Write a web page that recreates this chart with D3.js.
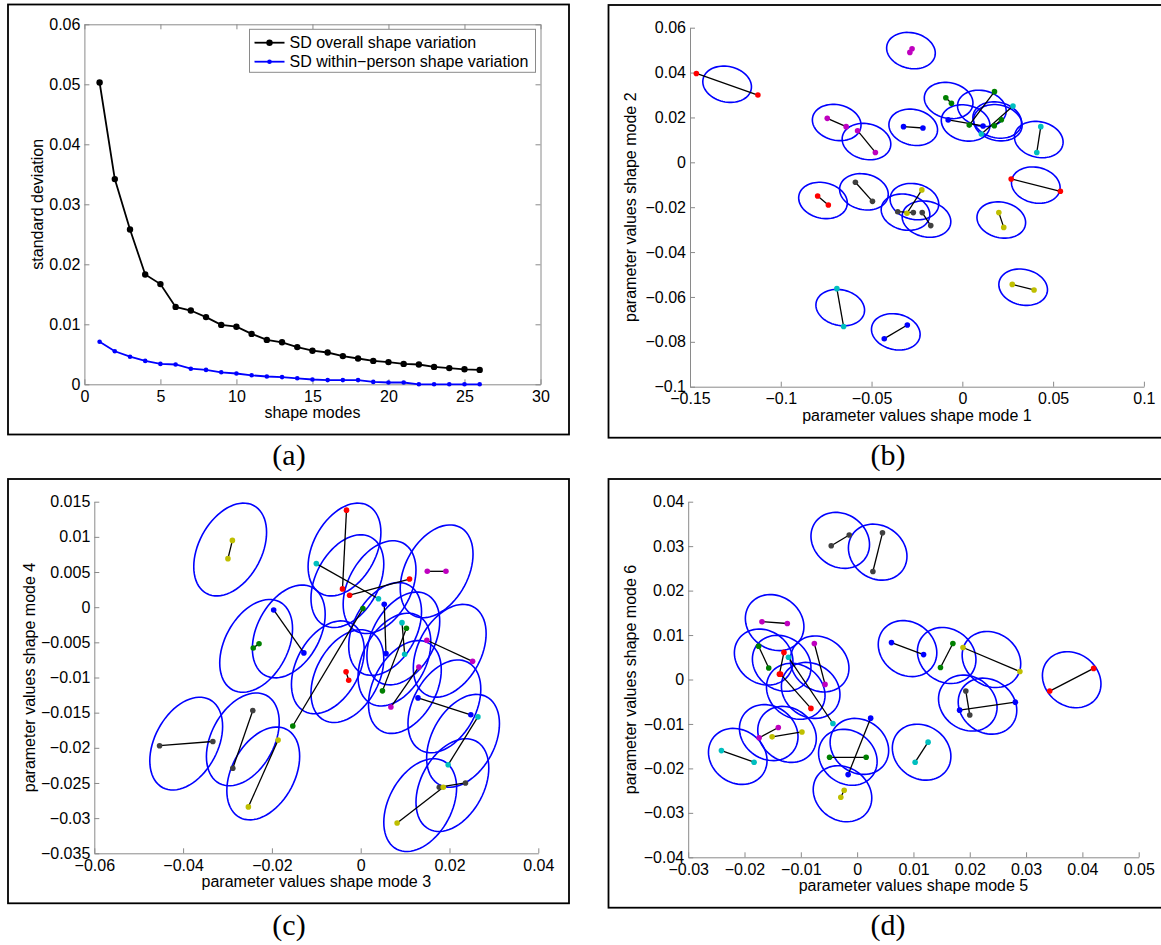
<!DOCTYPE html>
<html>
<head>
<meta charset="utf-8">
<script src="https://cdn.jsdelivr.net/npm/d3@7"></script>
<style>
  body { margin: 0; background: #fff; }
  svg { display: block; }
</style>
</head>
<body>
<div id="chart"></div>
<script>
// ---- data: panel (a) ----
const shapeModes = [1, 2, 3, 4, 5, 6, 7, 8, 9, 10, 11, 12, 13, 14, 15, 16, 17, 18, 19, 20, 21, 22, 23, 24, 25, 26];
const sdOverall = [0.0503, 0.0342, 0.0258, 0.0183, 0.0167, 0.0129, 0.0123, 0.0112, 0.0099, 0.0096, 0.0084, 0.0074, 0.0070,
    0.0062, 0.0056, 0.0053, 0.0047, 0.0043, 0.0039, 0.0037, 0.0034, 0.0033, 0.0029, 0.0027, 0.0025, 0.0024];
const sdWithin = [0.0071, 0.0055, 0.0046, 0.0039, 0.0034, 0.0033, 0.0026, 0.0024, 0.0020, 0.0018, 0.0015, 0.0013, 0.0012,
    0.0010, 0.0008, 0.0007, 0.0007, 0.0007, 0.0004, 0.0003, 0.0003, 0, 0, 0, 0, 0];
const legendLabels = ["SD overall shape variation", "SD within\u2212person shape variation"];

const aXTicks = [0, 5, 10, 15, 20, 25, 30];
const aXLabels = ["0", "5", "10", "15", "20", "25", "30"];
const aYTicks = [0, 0.01, 0.02, 0.03, 0.04, 0.05, 0.06];
const aYLabels = ["0", "0.01", "0.02", "0.03", "0.04", "0.05", "0.06"];

// ---- data: scatter panels, each pair = [person colour, x1, y1, x2, y2] ----
const mode12Pairs = [
    ["r", -0.1465, 0.0396, -0.1126, 0.0300],
    ["m", -0.0289, 0.0490, -0.0277, 0.0506],
    ["m", -0.0744, 0.0196, -0.0640, 0.0159],
    ["m", -0.0577, 0.0141, -0.0479, 0.0044],
    ["b", -0.0324, 0.0159, -0.0217, 0.0153],
    ["g", -0.0091, 0.0288, -0.0060, 0.0263],
    ["g", 0.0177, 0.0315, 0.0038, 0.0166],
    ["b", -0.0078, 0.0189, 0.0114, 0.0162],
    ["c", 0.0279, 0.0251, 0.0105, 0.0126],
    ["g", 0.0215, 0.0190, 0.0176, 0.0163],
    ["c", 0.0432, 0.0159, 0.0410, 0.0044],
    ["r", 0.0269, -0.0074, 0.0540, -0.0129],
    ["r", -0.0797, -0.0150, -0.0738, -0.0190],
    ["k", -0.0589, -0.0089, -0.0495, -0.0174],
    ["y", -0.0223, -0.0123, -0.0305, -0.0227],
    ["k", -0.0356, -0.0220, -0.0270, -0.0224],
    ["k", -0.0221, -0.0224, -0.0174, -0.0282],
    ["y", 0.0201, -0.0224, 0.0228, -0.0290],
    ["y", 0.0275, -0.0544, 0.0395, -0.0569],
    ["c", -0.0691, -0.0563, -0.0654, -0.0732],
    ["b", -0.0430, -0.0786, -0.0303, -0.0725]
];
const mode34Pairs = [
    ["y", -0.0289, 0.0095, -0.0299, 0.0069],
    ["r", -0.0032, 0.0138, -0.0041, 0.0026],
    ["c", -0.0100, 0.0062, 0.0040, 0.0012],
    ["r", -0.0025, 0.0017, 0.0110, 0.0040],
    ["m", 0.0150, 0.0051, 0.0192, 0.0051],
    ["b", -0.0196, -0.0004, -0.0128, -0.0065],
    ["g", -0.0242, -0.0058, -0.0229, -0.0052],
    ["g", 0.0005, -0.0002, -0.0153, -0.0169],
    ["b", 0.0053, 0.0004, 0.0057, -0.0066],
    ["c", 0.0093, -0.0022, 0.0099, -0.0067],
    ["g", 0.0103, -0.0030, 0.0049, -0.0119],
    ["m", 0.0149, -0.0047, 0.0252, -0.0077],
    ["m", 0.0131, -0.0085, 0.0068, -0.0142],
    ["r", -0.0033, -0.0092, -0.0027, -0.0104],
    ["b", 0.0129, -0.0129, 0.0248, -0.0153],
    ["c", 0.0264, -0.0156, 0.0197, -0.0224],
    ["k", 0.0236, -0.0250, 0.0177, -0.0256],
    ["y", 0.0186, -0.0256, 0.0082, -0.0307],
    ["k", -0.0453, -0.0197, -0.0333, -0.0191],
    ["k", -0.0243, -0.0147, -0.0288, -0.0229],
    ["y", -0.0186, -0.0189, -0.0253, -0.0284]
];
const mode56Pairs = [
    ["k", -0.0046, 0.0301, -0.0014, 0.0325],
    ["k", 0.0045, 0.0330, 0.0028, 0.0243],
    ["m", -0.0169, 0.0130, -0.0124, 0.0126],
    ["g", -0.0175, 0.0075, -0.0157, 0.0026],
    ["r", -0.0130, 0.0061, -0.0138, 0.0012],
    ["r", -0.0136, 0.0012, -0.0082, -0.0065],
    ["c", -0.0122, 0.0050, -0.0043, -0.0099],
    ["m", -0.0076, 0.0081, -0.0057, -0.0011],
    ["m", -0.0140, -0.0108, -0.0174, -0.0131],
    ["y", -0.0151, -0.0129, -0.0098, -0.0118],
    ["c", -0.0241, -0.0160, -0.0183, -0.0186],
    ["g", -0.0049, -0.0175, 0.0016, -0.0175],
    ["b", 0.0024, -0.0087, -0.0016, -0.0214],
    ["y", -0.0023, -0.0249, -0.0029, -0.0265],
    ["c", 0.0126, -0.0141, 0.0103, -0.0186],
    ["b", 0.0061, 0.0083, 0.0118, 0.0056],
    ["g", 0.0170, 0.0081, 0.0148, 0.0027],
    ["y", 0.0188, 0.0072, 0.0289, 0.0018],
    ["r", 0.0342, -0.0026, 0.0420, 0.0025],
    ["k", 0.0193, -0.0026, 0.0200, -0.0080],
    ["b", 0.0182, -0.0069, 0.0281, -0.0051]
];

// within-person spread (sd x, sd y, correlation) drawn round each pair mean
const spread12 = { sx: 0.0134, sy: 0.0081, rho: -0.14 };
const spread34 = { sx: 0.0082, sy: 0.0066, rho: 0.37 };
const spread56 = { sx: 0.0052, sy: 0.0063, rho: -0.15 };

const bXTicks = [-0.15, -0.1, -0.05, 0, 0.05, 0.1];
const bXLabels = ["\u22120.15", "\u22120.1", "\u22120.05", "0", "0.05", "0.1"];
const bYTicks = [-0.1, -0.08, -0.06, -0.04, -0.02, 0, 0.02, 0.04, 0.06];
const bYLabels = ["\u22120.1", "\u22120.08", "\u22120.06", "\u22120.04", "\u22120.02", "0", "0.02", "0.04", "0.06"];
const cXTicks = [-0.06, -0.04, -0.02, 0, 0.02, 0.04];
const cXLabels = ["\u22120.06", "\u22120.04", "\u22120.02", "0", "0.02", "0.04"];
const cYTicks = [-0.035, -0.03, -0.025, -0.02, -0.015, -0.01, -0.005, 0, 0.005, 0.01, 0.015];
const cYLabels = ["\u22120.035", "\u22120.03", "\u22120.025", "\u22120.02", "\u22120.015", "\u22120.01", "\u22120.005", "0", "0.005", "0.01", "0.015"];
const dXTicks = [-0.03, -0.02, -0.01, 0, 0.01, 0.02, 0.03, 0.04, 0.05];
const dXLabels = ["\u22120.03", "\u22120.02", "\u22120.01", "0", "0.01", "0.02", "0.03", "0.04", "0.05"];
const dYTicks = [-0.04, -0.03, -0.02, -0.01, 0, 0.01, 0.02, 0.03, 0.04];
const dYLabels = ["\u22120.04", "\u22120.03", "\u22120.02", "\u22120.01", "0", "0.01", "0.02", "0.03", "0.04"];

// ---- styles ----
const sans = "'Liberation Sans', Arial, Helvetica, sans-serif";
const serif = "'Liberation Serif', 'Times New Roman', serif";
const axisGray = "#8a8a8a";
const personColor = {
    b: "#0000ff", g: "#008000", r: "#ff0000", c: "#00bfbf",
    m: "#bf00bf", y: "#bfbf00", k: "#404040"
};

const svg = d3.select("#chart")
    .append("svg")
    .attr("width", 1161)
    .attr("height", 945);

// style an axis group like matlab
function styleAxis(g) {
    g.attr("font-size", 16).attr("font-family", sans);
    g.selectAll(".domain").attr("stroke", axisGray);
    g.selectAll(".tick line").attr("stroke", axisGray);
    g.selectAll(".tick text").attr("fill", "#000");
}

// panel frame + caption
function frame(x0, y0, x1, y1, tag, tx, ty) {
    svg.append("rect")
        .attr("x", x0).attr("y", y0)
        .attr("width", x1 - x0).attr("height", y1 - y0)
        .attr("fill", "none")
        .attr("stroke", "#000")
        .attr("stroke-width", 1.8);
    svg.append("text")
        .attr("x", tx).attr("y", ty)
        .attr("text-anchor", "middle")
        .attr("font-family", serif)
        .attr("font-size", 30)
        .text(tag);
}

// ================= panel (a) =================
frame(8, 4.5, 569, 434.5, "(a)", 289, 465);

const ax = d3.scaleLinear().domain([0, 30]).range([84.4, 540.5]);
const ay = d3.scaleLinear().domain([0, 0.06]).range([384.3, 24.3]);

svg.append("g")
    .attr("transform", "translate(0," + ay(0) + ")")
    .call(d3.axisBottom(ax).tickValues(aXTicks).tickFormat((d, i) => aXLabels[i])
        .tickSizeInner(-5).tickSizeOuter(0).tickPadding(6))
    .call(styleAxis);
svg.append("g")
    .attr("transform", "translate(" + ax(0) + ",0)")
    .call(d3.axisLeft(ay).tickValues(aYTicks).tickFormat((d, i) => aYLabels[i])
        .tickSizeInner(-5).tickSizeOuter(0).tickPadding(4))
    .call(styleAxis);
svg.append("g")
    .attr("transform", "translate(0," + ay(0.06) + ")")
    .call(d3.axisTop(ax).tickValues(aXTicks).tickFormat(() => "").tickSizeInner(-5).tickSizeOuter(0))
    .call(styleAxis);
svg.append("g")
    .attr("transform", "translate(" + ax(30) + ",0)")
    .call(d3.axisRight(ay).tickValues(aYTicks).tickFormat(() => "").tickSizeInner(-5).tickSizeOuter(0))
    .call(styleAxis);

svg.append("text")
    .attr("x", (ax(0) + ax(30)) / 2).attr("y", 418)
    .attr("text-anchor", "middle")
    .attr("font-family", sans).attr("font-size", 16)
    .text("shape modes");
svg.append("text")
    .attr("transform", "translate(42.5," + (ay(0) + ay(0.06)) / 2 + ") rotate(-90)")
    .attr("text-anchor", "middle")
    .attr("font-family", sans).attr("font-size", 16)
    .text("standard deviation");

const sdLine = d3.line()
    .x((d, i) => ax(shapeModes[i]))
    .y(d => ay(d));

const series = [
    { values: sdOverall, color: "#000", r: 3.2 },
    { values: sdWithin, color: "#0000ff", r: 2.3 }
];
series.forEach(s => {
    svg.append("path")
        .datum(s.values)
        .attr("d", sdLine)
        .attr("fill", "none")
        .attr("stroke", s.color)
        .attr("stroke-width", 1.8);
    svg.append("g")
        .selectAll("circle")
        .data(s.values)
        .enter()
        .append("circle")
        .attr("cx", (d, i) => ax(shapeModes[i]))
        .attr("cy", d => ay(d))
        .attr("r", s.r)
        .attr("fill", s.color);
});

// legend
const legend = svg.append("g").attr("id", "legend");
legend.append("rect")
    .attr("x", 249.5).attr("y", 29.3)
    .attr("width", 286).attr("height", 43)
    .attr("fill", "#fff")
    .attr("stroke", axisGray);
const legendRows = legend.selectAll("g.row")
    .data(series)
    .enter()
    .append("g")
    .attr("class", "row")
    .attr("transform", (d, i) => `translate(0,${42.7 + i * 19})`);
legendRows.append("line")
    .attr("x1", 254.5).attr("x2", 284.5)
    .attr("stroke", d => d.color)
    .attr("stroke-width", 1.8);
legendRows.append("circle")
    .attr("cx", 269.5).attr("r", d => d.r)
    .attr("fill", d => d.color);
legendRows.append("text")
    .attr("x", 289.5).attr("dy", "0.35em")
    .attr("font-family", sans).attr("font-size", 16)
    .text((d, i) => legendLabels[i]);

// ================= scatter panels =================
function ellipsePoints(cx, cy, s) {
    const k = Math.sqrt(1 - s.rho * s.rho);
    return d3.range(72).map(j => {
        const t = j / 72 * 2 * Math.PI;
        return [cx + s.sx * Math.cos(t), cy + s.sy * (s.rho * Math.cos(t) + k * Math.sin(t))];
    });
}

function scatterPanel(p) {
    frame(p.frame[0], p.frame[1], p.frame[2], p.frame[3], p.tag, p.tagX, p.tagY);

    const x = d3.scaleLinear().domain(p.xDomain).range(p.xRange);
    const y = d3.scaleLinear().domain(p.yDomain).range(p.yRange);

    svg.append("g")
        .attr("transform", "translate(0," + p.yRange[0] + ")")
        .call(d3.axisBottom(x).tickValues(p.xTicks).tickFormat((d, i) => p.xLabels[i])
            .tickSizeInner(-5).tickSizeOuter(0).tickPadding(6))
        .call(styleAxis);
    svg.append("g")
        .attr("transform", "translate(" + p.xRange[0] + ",0)")
        .call(d3.axisLeft(y).tickValues(p.yTicks).tickFormat((d, i) => p.yLabels[i])
            .tickSizeInner(-5).tickSizeOuter(0).tickPadding(4))
        .call(styleAxis);

    svg.append("text")
        .attr("x", (p.xRange[0] + p.xRange[1]) / 2).attr("y", p.xTitleY)
        .attr("text-anchor", "middle")
        .attr("font-family", sans).attr("font-size", 16)
        .text(p.xTitle);
    svg.append("text")
        .attr("transform", "translate(" + p.yTitleX + "," + (p.yRange[0] + p.yRange[1]) / 2 + ") rotate(-90)")
        .attr("text-anchor", "middle")
        .attr("font-family", sans).attr("font-size", 16)
        .text(p.yTitle);

    const path = d3.line()
        .x(d => x(d[0]))
        .y(d => y(d[1]))
        .curve(d3.curveLinearClosed);

    const g = svg.append("g");
    g.selectAll("path.ell")
        .data(p.pairs)
        .enter()
        .append("path")
        .attr("class", "ell")
        .attr("d", d => path(ellipsePoints((d[1] + d[3]) / 2, (d[2] + d[4]) / 2, p.spread)))
        .attr("fill", "none")
        .attr("stroke", "#0000ff")
        .attr("stroke-width", 1.6);
    g.selectAll("line")
        .data(p.pairs)
        .enter()
        .append("line")
        .attr("x1", d => x(d[1])).attr("y1", d => y(d[2]))
        .attr("x2", d => x(d[3])).attr("y2", d => y(d[4]))
        .attr("stroke", "#000")
        .attr("stroke-width", 1.3);
    p.pairs.forEach(d => {
        [[d[1], d[2]], [d[3], d[4]]].forEach(pt => {
            g.append("circle")
                .attr("cx", x(pt[0]))
                .attr("cy", y(pt[1]))
                .attr("r", 2.8)
                .attr("fill", personColor[d[0]]);
        });
    });
}

scatterPanel({
    tag: "(b)", tagX: 888, tagY: 465,
    frame: [608.5, 5, 1175, 437.7],
    xDomain: [-0.15, 0.1], xRange: [690, 1143.9],
    yDomain: [-0.1, 0.06], yRange: [386.7, 27.7],
    xTicks: bXTicks, xLabels: bXLabels, yTicks: bYTicks, yLabels: bYLabels,
    xTitle: "parameter values shape mode 1", xTitleY: 420.7,
    yTitle: "parameter values shape mode 2", yTitleX: 636,
    pairs: mode12Pairs, spread: spread12
});

scatterPanel({
    tag: "(c)", tagX: 289, tagY: 935,
    frame: [8, 479, 569, 903.3],
    xDomain: [-0.06, 0.04], xRange: [94.3, 538.3],
    yDomain: [-0.035, 0.015], yRange: [853.3, 501.7],
    xTicks: cXTicks, xLabels: cXLabels, yTicks: cYTicks, yLabels: cYLabels,
    xTitle: "parameter values shape mode 3", xTitleY: 887,
    yTitle: "parameter values shape mode 4", yTitleX: 35,
    pairs: mode34Pairs, spread: spread34
});

scatterPanel({
    tag: "(d)", tagX: 888, tagY: 935,
    frame: [608.5, 479, 1175, 907.7],
    xDomain: [-0.03, 0.05], xRange: [688.2, 1138.7],
    yDomain: [-0.04, 0.04], yRange: [857.3, 501.7],
    xTicks: dXTicks, xLabels: dXLabels, yTicks: dYTicks, yLabels: dYLabels,
    xTitle: "parameter values shape mode 5", xTitleY: 890.7,
    yTitle: "parameter values shape mode 6", yTitleX: 636,
    pairs: mode56Pairs, spread: spread56
});
</script>
</body>
</html>
